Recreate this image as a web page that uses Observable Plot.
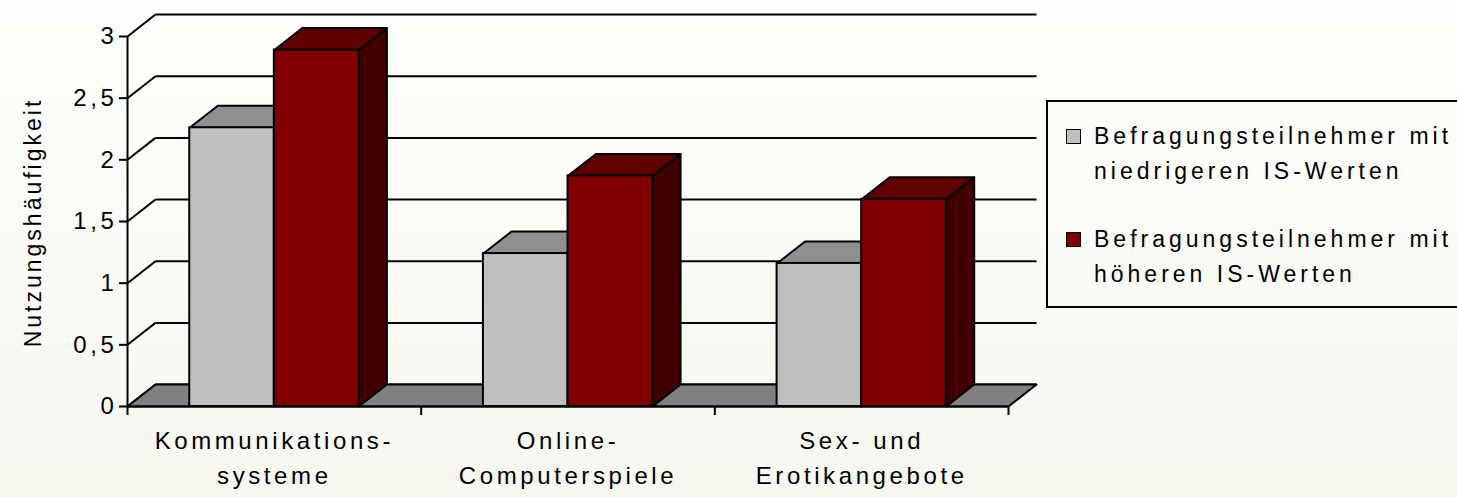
<!DOCTYPE html>
<html>
<head>
<meta charset="utf-8">
<script src="https://cdn.jsdelivr.net/npm/d3@7"></script>
<script src="https://cdn.jsdelivr.net/npm/@observablehq/plot@0.6"></script>
<style>
  html, body { margin: 0; padding: 0; width: 1457px; height: 497px; overflow: hidden; }
  body { background: linear-gradient(#FEFEFC, #F7F7F0); font-family: "Liberation Sans", Arial, sans-serif; position: relative; }
  #chart svg { background: transparent !important; display: block; }
  #chart svg text { letter-spacing: 3.6px; font-family: "Liberation Sans", Arial, sans-serif; fill: #000; }
  #legend { position: absolute; left: 1046px; top: 100px; width: 430px; height: 208px; border: 2px solid #000; box-sizing: border-box; }
  .item { position: absolute; left: 0; }
  .sq { position: absolute; left: 18px; width: 13px; height: 13px; border: 1.5px solid #000; }
  .txt { position: absolute; left: 46px; font-size: 23px; line-height: 34.5px; letter-spacing: 4px; white-space: nowrap; color: #000; }
</style>
</head>
<body>
<div id="chart"></div>
<div id="legend"></div>
<script>
// ---- data ----
const categories = ["Kommunikations-\nsysteme", "Online-\nComputerspiele", "Sex- und\nErotikangebote"];
const seriesNames = ["Befragungsteilnehmer mit\nniedrigeren IS-Werten", "Befragungsteilnehmer mit\nhöheren IS-Werten"];
const lowValues = [2.26, 1.24, 1.16];
const highValues = [2.89, 1.87, 1.68];
const yTicks = [0, 0.5, 1, 1.5, 2, 2.5, 3];
const xTicks = [0, 1, 2, 3];

// ---- styling / layout constants ----
const frontColors = ["#C0C0C0", "#800000"];
const topColors = ["#8F8F8F", "#600000"];
const sideColors = ["#606060", "#400000"];
const DEPTH_X = 0.0953;   // 3D depth in category units
const DEPTH_Y = 0.178;    // 3D depth in value units
const BAR_START = 0.212, BAR_W = 0.288;

const series = [lowValues, highValues];
const bars = [];
series.forEach((vals, s) => vals.forEach((v, i) => {
  const x1 = i + BAR_START + s * BAR_W, x2 = x1 + BAR_W;
  bars.push({s, i, v, x1, x2, id: s + "-" + i});
}));

const topFaces = [], sideFaces = [];
for (const b of bars) {
  topFaces.push(
    {id: b.id, s: b.s, x: b.x1, y: b.v},
    {id: b.id, s: b.s, x: b.x2, y: b.v},
    {id: b.id, s: b.s, x: b.x2 + DEPTH_X, y: b.v + DEPTH_Y},
    {id: b.id, s: b.s, x: b.x1 + DEPTH_X, y: b.v + DEPTH_Y});
  sideFaces.push(
    {id: b.id, s: b.s, x: b.x2, y: 0},
    {id: b.id, s: b.s, x: b.x2 + DEPTH_X, y: DEPTH_Y},
    {id: b.id, s: b.s, x: b.x2 + DEPTH_X, y: b.v + DEPTH_Y},
    {id: b.id, s: b.s, x: b.x2, y: b.v});
}
const xMax = categories.length;
const floor = [
  {x: 0, y: 0}, {x: xMax, y: 0}, {x: xMax + DEPTH_X, y: DEPTH_Y}, {x: DEPTH_X, y: DEPTH_Y}
];

const faceMarks = [];
[0, 1].forEach(s => {
  faceMarks.push(
    Plot.line(sideFaces.filter(d => d.s === s), {x: "x", y: "y", z: "id", fill: sideColors[s], stroke: "#000", strokeWidth: 2, curve: "linear-closed", strokeLinejoin: "round"}),
    Plot.line(topFaces.filter(d => d.s === s), {x: "x", y: "y", z: "id", fill: topColors[s], stroke: "#000", strokeWidth: 2, curve: "linear-closed", strokeLinejoin: "round"}),
    Plot.rect(bars.filter(d => d.s === s), {x1: "x1", x2: "x2", y1: 0, y2: "v", fill: frontColors[s], stroke: "#000", strokeWidth: 2})
  );
});

const chart = Plot.plot({
  width: 1457,
  height: 497,
  marginLeft: 127,
  marginRight: 449,
  marginTop: 36,
  marginBottom: 91,
  style: {background: "transparent", fontFamily: "Liberation Sans, Arial, sans-serif"},
  x: {domain: [0, xMax], axis: null},
  y: {domain: [0, 3], axis: null},
  marks: [
    // back wall gridlines
    Plot.link(yTicks, {x1: DEPTH_X, x2: xMax + DEPTH_X, y1: t => t + DEPTH_Y, y2: t => t + DEPTH_Y, stroke: "#000", strokeWidth: 2}),
    // side wall diagonals
    Plot.link(yTicks, {x1: 0, x2: DEPTH_X, y1: t => t, y2: t => t + DEPTH_Y, stroke: "#000", strokeWidth: 2}),
    // floor
    Plot.line(floor, {x: "x", y: "y", fill: "#808080", stroke: "#000", strokeWidth: 2, curve: "linear-closed"}),
    ...faceMarks,
    // front axes
    Plot.ruleY([0], {x1: 0, x2: xMax, stroke: "#000", strokeWidth: 2}),
    Plot.ruleX([0], {y1: 0, y2: 3, stroke: "#000", strokeWidth: 2}),
    Plot.axisY({ticks: yTicks, tickSize: 8, tickPadding: 2, strokeWidth: 2, fontSize: 24, label: null,
      tickFormat: d => String(d).replace(".", ",")}),
    Plot.axisX({ticks: xTicks, tickSize: 9, strokeWidth: 2, tickFormat: () => "", label: null}),
    Plot.text(categories, {x: (d, i) => i + 0.5, y: 0, text: d => d, dy: 18, lineAnchor: "top", fontSize: 24, lineHeight: 1.46}),
    Plot.text(["Nutzungshäufigkeit"], {frameAnchor: "left", textAnchor: "middle", text: d => d, rotate: -90, dx: -94, dy: 1, fontSize: 23})
  ]
});
document.getElementById("chart").appendChild(chart);
d3.select(chart).selectAll("text").filter(function() { return this.textContent === "Nutzungshäufigkeit"; })
  .style("letter-spacing", "3px");

// ---- legend ----
const legend = d3.select("#legend");
const itemTops = [17, 120];
seriesNames.forEach((name, s) => {
  const it = legend.append("div").attr("class", "item").style("top", itemTops[s] + "px");
  it.append("div").attr("class", "sq").style("top", "10px").style("background", frontColors[s]);
  it.append("div").attr("class", "txt").style("top", "0px").html(name.split("\n").join("<br>"));
});
</script>
</body>
</html>
